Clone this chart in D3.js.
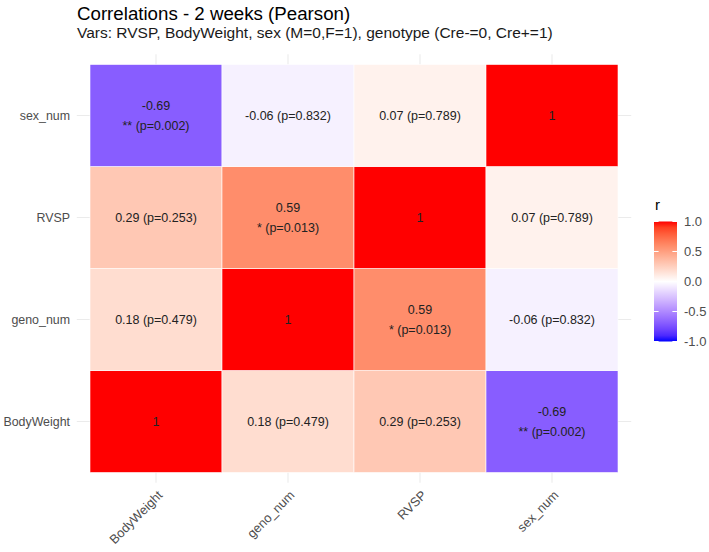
<!DOCTYPE html>
<html>
<head>
<meta charset="utf-8">
<script src="https://cdn.jsdelivr.net/npm/d3@7"></script>
<style>
  body { margin: 0; background: #fff; }
  text { font-family: "Liberation Sans", Arial, sans-serif; }
</style>
</head>
<body>
<div id="app"></div>
<script>
const vars = ["BodyWeight", "geno_num", "RVSP", "sex_num"];
// correlation matrix, rows/cols in the order of vars
const rValues = [
  [1, 0.18, 0.29, -0.69],
  [0.18, 1, 0.59, -0.06],
  [0.29, 0.59, 1, 0.07],
  [-0.69, -0.06, 0.07, 1]
];
const pValues = [
  [null, 0.479, 0.253, 0.002],
  [0.479, null, 0.013, 0.832],
  [0.253, 0.013, null, 0.789],
  [0.002, 0.832, 0.789, null]
];
const legendTicks = [1.0, 0.5, 0.0, -0.5, -1.0];

const width = 709;
const height = 552;

// tiles span 90..618 x 64.5..472.5, panel adds 0.1 unit on each side
const panel = { left: 76.8, right: 631.2, top: 54.3, bottom: 482.7 };

const svg = d3.select('#app')
  .append('svg')
  .attr('width', width)
  .attr('height', height);

// discrete scales with ggplot-like expansion (0.6 units beyond centres)
const x = d3.scalePoint()
  .domain(vars)
  .range([panel.left, panel.right])
  .padding(0.6);
const y = d3.scalePoint()
  .domain(vars)
  .range([panel.bottom, panel.top])
  .padding(0.6);
const cell = x.step();
const cellH = y.step();

// gradient2: blue - white - red
const fill = v => v < 0
  ? d3.interpolateLab('white', 'blue')(-v)
  : d3.interpolateLab('white', 'red')(v);

// grid lines
const grid = svg.append('g');
grid.selectAll('.gx').data(vars).enter().append('line')
  .attr('x1', d => x(d)).attr('x2', d => x(d))
  .attr('y1', panel.top).attr('y2', panel.bottom)
  .attr('stroke', '#ebebeb').attr('stroke-width', 1.1);
grid.selectAll('.gy').data(vars).enter().append('line')
  .attr('y1', d => y(d)).attr('y2', d => y(d))
  .attr('x1', panel.left).attr('x2', panel.right)
  .attr('stroke', '#ebebeb').attr('stroke-width', 1.1);

const cells = [];
vars.forEach((a, i) => {
  vars.forEach((b, j) => {
    cells.push({ xv: a, yv: b, r: rValues[i][j], p: pValues[i][j] });
  });
});

const stars = p => p < 0.001 ? '***' : p < 0.01 ? '**' : p < 0.05 ? '*' : '';

const tile = svg.append('g').selectAll('.tile')
  .data(cells)
  .enter()
  .append('g')
  .attr('class', 'tile');

tile.append('rect')
  .attr('x', d => x(d.xv) - cell / 2)
  .attr('y', d => y(d.yv) - cellH / 2)
  .attr('width', cell)
  .attr('height', cellH)
  .attr('fill', d => fill(d.r))
  .attr('stroke', 'white')
  .attr('stroke-width', 0.6);

tile.each(function (d) {
  const g = d3.select(this);
  const cx = x(d.xv), cy = y(d.yv);
  let lines;
  if (d.p === null) lines = ['1'];
  else if (stars(d.p)) lines = [d.r.toFixed(2), `${stars(d.p)} (p=${d.p.toFixed(3)})`];
  else lines = [`${d.r.toFixed(2)} (p=${d.p.toFixed(3)})`];
  lines.forEach((t, k) => {
    g.append('text')
      .attr('x', cx)
      .attr('y', cy + (k - (lines.length - 1) / 2) * 20)
      .attr('dy', '0.35em')
      .attr('text-anchor', 'middle')
      .attr('font-size', 12.5)
      .attr('fill', '#222')
      .text(t);
  });
});

// axis labels
svg.append('g').selectAll('text').data(vars).enter().append('text')
  .attr('x', 70)
  .attr('y', d => y(d))
  .attr('dy', '0.35em')
  .attr('text-anchor', 'end')
  .attr('font-size', 12.4)
  .attr('fill', '#4d4d4d')
  .text(d => d);

svg.append('g').selectAll('text').data(vars).enter().append('text')
  .attr('transform', d => `translate(${x(d) + 1},${panel.bottom + 7}) rotate(-45)`)
  .attr('dy', '0.7em')
  .attr('text-anchor', 'end')
  .attr('font-size', 12.8)
  .attr('fill', '#4d4d4d')
  .text(d => d);

// titles
svg.append('text')
  .attr('x', 77).attr('y', 20)
  .attr('font-size', 18.7)
  .attr('fill', '#000')
  .text('Correlations - 2 weeks (Pearson)');
svg.append('text')
  .attr('x', 77).attr('y', 38)
  .attr('font-size', 15.5)
  .attr('fill', '#1a1a1a')
  .text('Vars: RVSP, BodyWeight, sex (M=0,F=1), genotype (Cre-=0, Cre+=1)');

// legend
const ly = d3.scaleLinear().domain([-1, 1]).range([341.5, 221.5]);
const lx = 654, lw = 23;
const defs = svg.append('defs');
const grad = defs.append('linearGradient')
  .attr('id', 'rgrad')
  .attr('x1', 0).attr('y1', 1).attr('x2', 0).attr('y2', 0);
d3.range(0, 21).forEach(k => {
  const v = -1 + k / 10;
  grad.append('stop').attr('offset', k / 20).attr('stop-color', fill(v));
});
svg.append('text')
  .attr('x', lx + 1).attr('y', 210)
  .attr('font-size', 15)
  .attr('fill', '#000')
  .text('r');
svg.append('rect')
  .attr('x', lx).attr('y', ly(1))
  .attr('width', lw).attr('height', ly(-1) - ly(1))
  .attr('fill', 'url(#rgrad)');
const lt = svg.append('g').selectAll('g').data(legendTicks).enter().append('g');
lt.append('line')
  .attr('x1', lx).attr('x2', lx + 4.6)
  .attr('y1', d => ly(d)).attr('y2', d => ly(d))
  .attr('stroke', 'white');
lt.append('line')
  .attr('x1', lx + lw - 4.6).attr('x2', lx + lw)
  .attr('y1', d => ly(d)).attr('y2', d => ly(d))
  .attr('stroke', 'white');
lt.append('text')
  .attr('x', lx + lw + 7)
  .attr('y', d => ly(d))
  .attr('dy', '0.35em')
  .attr('font-size', 13)
  .attr('fill', '#4d4d4d')
  .text(d => d.toFixed(1));
</script>
</body>
</html>
